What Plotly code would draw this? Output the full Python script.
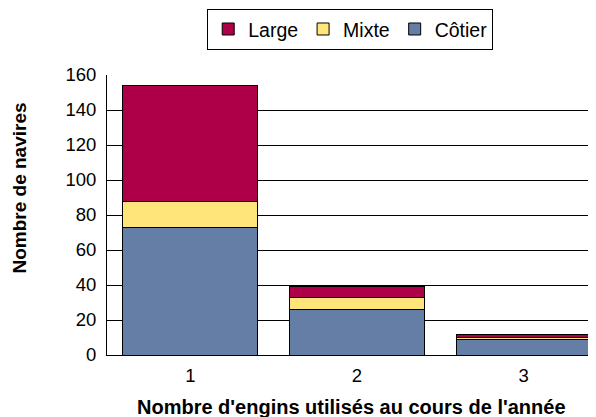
import plotly.graph_objects as go

categories = ["1", "2", "3"]
cotier = [73, 26, 9]
mixte = [15, 7, 1]
large = [66, 6, 2]
y_ticks = [0, 20, 40, 60, 80, 100, 120, 140, 160]

font = "Liberation Sans, Arial, sans-serif"
line = dict(color="#000000", width=1)

fig = go.Figure()
fig.add_trace(go.Bar(x=categories, y=cotier, name="Côtier", marker=dict(color="#647ea6", line=line)))
fig.add_trace(go.Bar(x=categories, y=mixte, name="Mixte", marker=dict(color="#ffe57a", line=line)))
fig.add_trace(go.Bar(x=categories, y=large, name="Large", marker=dict(color="#ae0049", line=line)))

# page body has an 8px margin, so the figure is 8px smaller than the window
fig.update_layout(
    width=588, height=409,
    barmode="stack", bargap=0.19,
    paper_bgcolor="white", plot_bgcolor="white",
    font=dict(family=font, size=18.5, color="#000"),
    margin=dict(l=99, r=0, t=67, b=62, autoexpand=False),
    legend=dict(orientation="h", x=0.582, xanchor="center", xref="container",
                y=0.998, yanchor="top", yref="container",
                traceorder="reversed", bordercolor="#000", borderwidth=1,
                font=dict(size=19.5), itemwidth=30),
    showlegend=True,
    annotations=[
        dict(text="<b>Nombre de navires</b>", textangle=-90, xref="paper", yref="paper",
             x=-0.178, y=0.598, xanchor="center", yanchor="middle", showarrow=False,
             font=dict(size=19)),
        dict(text="<b>Nombre d'engins utilisés au cours de l'année</b>", xref="paper", yref="paper",
             x=0.5, y=-0.185, xanchor="center", yanchor="middle", showarrow=False,
             font=dict(size=20)),
    ],
)
fig.update_xaxes(type="category", range=[-0.5, 2.434], showline=True, linecolor="#000",
                 automargin=False, ticks="outside", ticklen=4, tickcolor="rgba(0,0,0,0)")
fig.update_yaxes(range=[0, 160], tickvals=y_ticks, showline=True, linecolor="#000",
                 automargin=False, showgrid=True, gridcolor="#000", gridwidth=1,
                 ticks="outside", ticklen=6, tickcolor="rgba(0,0,0,0)")
fig.write_html("out.html")
